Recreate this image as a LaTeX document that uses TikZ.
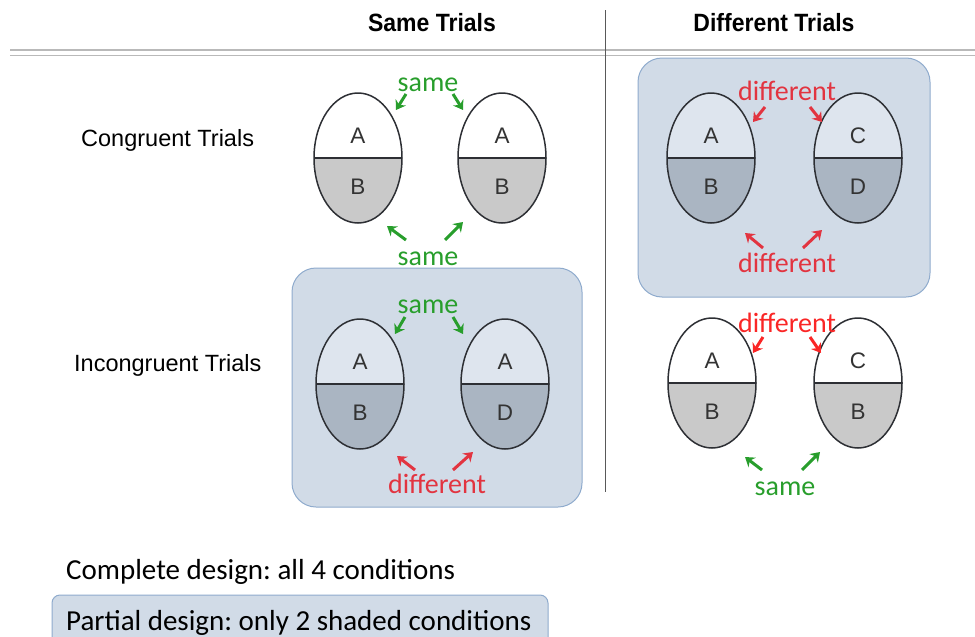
\documentclass[tikz,border=0pt]{standalone}
\usepackage{fontspec}
\usetikzlibrary{shapes.geometric,arrows.meta}
\frenchspacing
\newfontfamily\calfont{Carlito}
\newfontfamily\helfont{Liberation Sans}
\newfontfamily\narfont[FakeStretch=0.92]{Liberation Sans}
\definecolor{sgreen}{RGB}{40,158,44}
\definecolor{dred}{RGB}{226,52,64}
\definecolor{bred}{RGB}{250,38,38}
\definecolor{panelfill}{RGB}{209,219,231}
\definecolor{paneledge}{RGB}{143,171,205}
\definecolor{halfgray}{RGB}{201,201,201}
\definecolor{halfblue}{RGB}{170,181,194}
\definecolor{toplight}{RGB}{222,229,238}
\definecolor{eggline}{RGB}{45,47,52}

\begin{document}
\begin{tikzpicture}[x=1pt,y=-1pt,line join=round,
  egg/.style 2 args={ellipse,draw=eggline,line width=1.5pt,inner sep=0pt,outer sep=0pt,
    minimum width=88pt,minimum height=130pt,fill=#1,
    path picture={\fill[#2] (path picture bounding box.west) rectangle (path picture bounding box.south east);
      \draw[eggline,line width=2.6pt] (path picture bounding box.west) -- (path picture bounding box.east);}},
  plainegg/.style={egg={white}{halfgray}},
  paneegg/.style={egg={toplight}{halfblue}},
  pane/.style={draw=paneledge,fill=panelfill,line width=1pt},
  letter/.style={font=\helfont\fontsize{22.5}{26}\selectfont,text=black!80,inner sep=0pt},
  rowhead/.style={font=\helfont\fontsize{23.5}{28}\selectfont,anchor=base west,inner sep=0pt},
  colhead/.style={font=\narfont\bfseries\fontsize{25}{30}\selectfont,anchor=base,inner sep=0pt},
  tag/.style={font=\calfont\fontsize{28}{32}\selectfont,anchor=base,inner sep=0pt},
  legend/.style={font=\calfont\fontsize{29}{34}\selectfont,anchor=base west,inner sep=0pt},
  arr/.style={line width=3pt,-{Stealth[length=9pt,width=12pt,inset=3pt]}}]
\useasboundingbox (0,0) rectangle (975,637);

% table rules and headings
\draw[gray!55,line width=1.5pt] (10,50) -- (975,50);
\draw[gray!55,line width=1.5pt] (10,55.5) -- (975,55.5);
\draw[black!65,line width=1pt] (605,10) -- (605,492);
\node[colhead] (same) at (432,31.5) {Same Trials};
\node[colhead] (diff) at (774,31.5) {Different Trials};
\node[rowhead] (cong) at (81,146) {Congruent Trials};
\node[rowhead] (incong) at (74,371) {Incongruent Trials};

% shaded conditions
\draw[pane,rounded corners=24pt] (292,268) rectangle (582,507);
\draw[pane,rounded corners=24pt] (638,58) rectangle (930,297);

% same trials, congruent
\node[plainegg] (scl) at (358,158) {};
\node[plainegg] (scr) at (502,158) {};
\node[letter] (scla) at ([yshift=22pt]scl.center) {A};\node[letter] (sclb) at ([yshift=-29pt]scl.center) {B};
\node[letter] (scra) at ([yshift=22pt]scr.center) {A};\node[letter] (scrb) at ([yshift=-29pt]scr.center) {B};
\node[tag,text=sgreen] (sct) at (428,91) {same};
\node[tag,text=sgreen] (scb) at (428,265) {same};
\draw[arr,sgreen] ([shift={(-22,3)}]sct.base) -- ([shift={(38,-48)}]scl.center);
\draw[arr,sgreen] ([shift={(25,3)}]sct.base) -- ([shift={(-39,-48)}]scr.center);
\draw[arr,sgreen] ([shift={(-22,-25)}]scb.base) -- ([shift={(29,68)}]scl.center);
\draw[arr,sgreen] ([shift={(17,-25)}]scb.base) -- ([shift={(-39,64)}]scr.center);

% same trials, incongruent
\node[paneegg] (sil) at (360,384) {};
\node[paneegg] (sir) at (505,384) {};
\node[letter] (sila) at ([yshift=22pt]sil.center) {A};\node[letter] (silb) at ([yshift=-29pt]sil.center) {B};
\node[letter] (sira) at ([yshift=22pt]sir.center) {A};\node[letter] (sirb) at ([yshift=-29pt]sir.center) {D};
\node[tag,text=sgreen] (sit) at (428,313) {same};
\node[tag,text=dred] (sib) at (437,493) {different};
\draw[arr,sgreen] ([shift={(-23,4)}]sit.base) -- ([shift={(35,-50)}]sil.center);
\draw[arr,sgreen] ([shift={(25,4)}]sit.base) -- ([shift={(-42,-50)}]sir.center);
\draw[arr,dred] ([shift={(-22,-23)}]sib.base) -- ([shift={(37,72)}]sil.center);
\draw[arr,dred] ([shift={(16,-23)}]sib.base) -- ([shift={(-32,68)}]sir.center);

% different trials, congruent
\node[paneegg] (dcl) at (711,158) {};
\node[paneegg] (dcr) at (858,158) {};
\node[letter] (dcla) at ([yshift=22pt]dcl.center) {A};\node[letter] (dclb) at ([yshift=-29pt]dcl.center) {B};
\node[letter] (dcra) at ([yshift=22pt]dcr.center) {C};\node[letter] (dcrb) at ([yshift=-29pt]dcr.center) {D};
\node[tag,text=dred] (dct) at (787,100) {different};
\node[tag,text=dred] (dcb) at (787,272) {different};
\draw[arr,dred] ([shift={(-22,7)}]dct.base) -- ([shift={(42,-36)}]dcl.center);
\draw[arr,dred] ([shift={(23,7)}]dct.base) -- ([shift={(-36,-36)}]dcr.center);
\draw[arr,dred] ([shift={(-24,-24)}]dcb.base) -- ([shift={(34,75)}]dcl.center);
\draw[arr,dred] ([shift={(16,-24)}]dcb.base) -- ([shift={(-36,72)}]dcr.center);

% different trials, incongruent
\node[plainegg] (dil) at (712,383) {};
\node[plainegg] (dir) at (858,383) {};
\node[letter] (dila) at ([yshift=22pt]dil.center) {A};\node[letter] (dilb) at ([yshift=-29pt]dil.center) {B};
\node[letter] (dira) at ([yshift=22pt]dir.center) {C};\node[letter] (dirb) at ([yshift=-29pt]dir.center) {B};
\node[tag,text=bred] (dit) at (787,332) {different};
\node[tag,text=sgreen] (dib) at (785,495) {same};
\draw[arr,bred] ([shift={(-24,5)}]dit.base) -- ([shift={(41,-30)}]dil.center);
\draw[arr,bred] ([shift={(23,5)}]dit.base) -- ([shift={(-37,-30)}]dir.center);
\draw[arr,sgreen] ([shift={(-23,-25)}]dib.base) -- ([shift={(33,74)}]dil.center);
\draw[arr,sgreen] ([shift={(17,-25)}]dib.base) -- ([shift={(-38,69)}]dir.center);

% legend
\node[legend] (complete) at (66,579) {Complete design: all 4 conditions};
\draw[pane,rounded corners=8pt] (52,595) rectangle (548,662);
\node[legend] (partial) at (66,630) {Partial design: only 2 shaded conditions};
\end{tikzpicture}
\end{document}
